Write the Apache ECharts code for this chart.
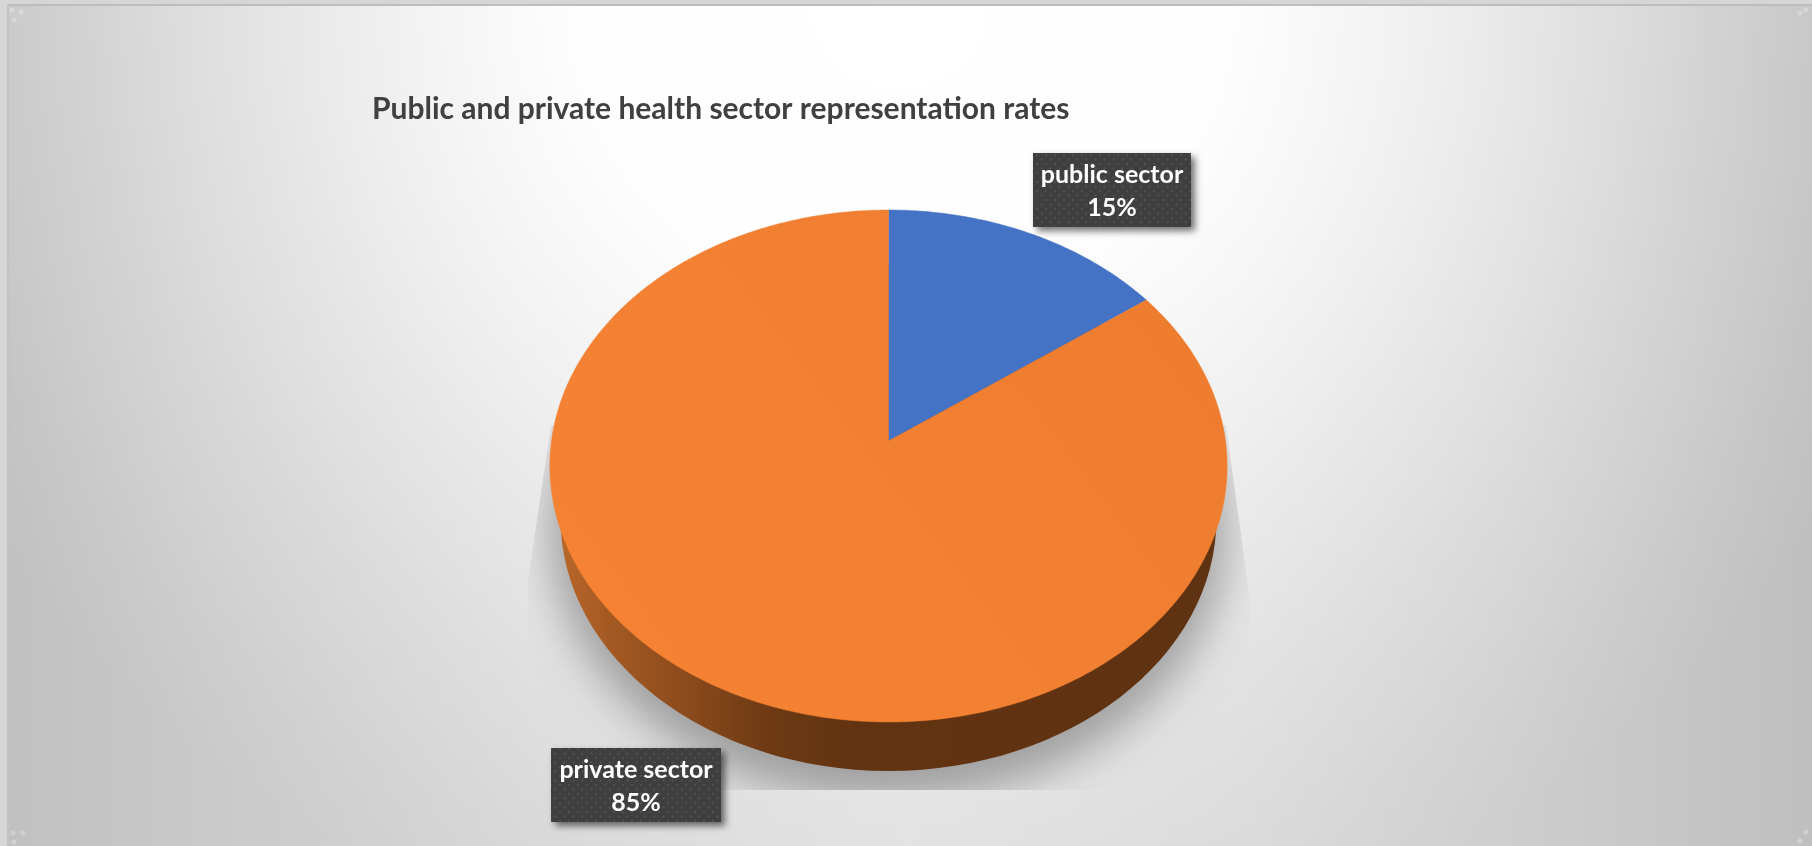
<!DOCTYPE html>
<html>
<head>
<meta charset="utf-8">
<style>html,body{margin:0;padding:0;background:#d6d6d6}#chart{width:1812px;height:846px}</style>
<script src="https://cdn.jsdelivr.net/npm/echarts@6/dist/echarts.min.js"></script>
</head>
<body>
<div id="chart"></div>
<script>
// Sector shares
const categories = ['public sector', 'private sector'];
const shares = [15, 85];
const sliceColors = ['#4472c4', null];
const chartTitle = 'Public and private health sector representation rates';

// Perspective disc: top face is a tilted circle, so the hub sits above the ellipse centre
const DISC = { cx: 888.5, cy: 466, halfH: 256, hubOffset: -25, spread: 337, tilt: -0.0977 };
const WALL = { cy: 518, rx: 328, ry: 253 };
const total = shares.reduce((a, b) => a + b, 0);

function project(sx, sy) {
  const den = 1 + DISC.tilt * sy;
  return [DISC.cx + DISC.spread * sx / den, DISC.cy + (DISC.halfH * sy + DISC.hubOffset) / den];
}
function rim(angle) { return project(Math.sin(angle), -Math.cos(angle)); }

function slicePoints(fromShare, toShare) {
  const a0 = fromShare / total * Math.PI * 2, a1 = toShare / total * Math.PI * 2;
  const steps = Math.max(8, Math.round((a1 - a0) * 90));
  const pts = [project(0, 0)];
  for (let i = 0; i <= steps; i++) pts.push(rim(a0 + (a1 - a0) * i / steps));
  return pts;
}

// Small dotted tile for the label boxes
const tile = document.createElement('canvas');
tile.width = 9; tile.height = 9;
(function () {
  const g = tile.getContext('2d');
  g.fillStyle = '#3f3f3f'; g.fillRect(0, 0, 9, 9);
  g.fillStyle = '#565656';
  [[2, 2], [6.5, 6.5]].forEach(p => { g.beginPath(); g.arc(p[0], p[1], 1, 0, 7); g.fill(); });
})();

const labelBoxes = [
  { x: 1033, y: 153, width: 158, height: 74 },
  { x: 551, y: 748, width: 170, height: 74 }
];

// Faint resize grips left in the frame corners
const gripDots = [[12, 10], [21, 12], [14, 20], [13, 833], [23, 833], [14, 842], [1806, 10], [1800, 13], [1806, 832], [1800, 841]];

const chart = echarts.init(document.getElementById('chart'));
chart.setOption({
  animation: false,
  title: {
    text: chartTitle, left: 367, top: 89,
    textStyle: { fontFamily: 'Lato', fontWeight: 'bold', fontSize: 30, color: '#404040' }
  },
  graphic: [
    {
      // Page backdrop: a sideways grey ramp with a white glow from the top edge
      type: 'rect', silent: true, z: -3, shape: { x: 0, y: 0, width: 1812, height: 846 },
      style: {
        fill: {
          type: 'linear', x: 0, y: 0, x2: 1, y2: 0,
          colorStops: [
            { offset: 0, color: '#c0c0c0' }, { offset: 0.11, color: '#c9c9c9' },
            { offset: 0.3, color: '#d6d6d6' }, { offset: 0.5, color: '#dedede' },
            { offset: 0.69, color: '#d8d8d8' }, { offset: 0.83, color: '#cecece' },
            { offset: 1, color: '#bfbfbf' }
          ]
        }
      }
    },
    {
      type: 'rect', silent: true, z: -2, x: 900, y: 0, scaleX: 1080, scaleY: 1000,
      shape: { x: -2, y: -2, width: 4, height: 4 },
      style: {
        fill: {
          type: 'radial', x: 0.5, y: 0.5, r: 0.25,
          colorStops: [
            { offset: 0, color: 'rgba(255,255,255,1)' }, { offset: 0.3, color: 'rgba(255,255,255,0.97)' },
            { offset: 0.45, color: 'rgba(255,255,255,0.72)' }, { offset: 0.6, color: 'rgba(255,255,255,0.47)' },
            { offset: 0.75, color: 'rgba(255,255,255,0.25)' }, { offset: 0.9, color: 'rgba(255,255,255,0.08)' },
            { offset: 1, color: 'rgba(255,255,255,0)' }
          ]
        }
      }
    },
    { type: 'rect', silent: true, z: -1, shape: { x: 0, y: 0, width: 7, height: 846 }, style: { fill: '#d6d6d6' } },
    { type: 'rect', silent: true, z: -1, shape: { x: 0, y: 0, width: 1812, height: 4 }, style: { fill: '#d6d6d6' } },
    { type: 'rect', silent: true, z: -1, shape: { x: 7, y: 4, width: 1805, height: 2 }, style: { fill: '#bdbdbd' } },
    { type: 'rect', silent: true, z: -1, shape: { x: 7, y: 4, width: 2, height: 842 }, style: { fill: '#c2c2c2' } }
  ].concat(gripDots.map(p => ({
    type: 'circle', silent: true, z: -1, shape: { cx: p[0], cy: p[1], r: 2.6 }, style: { fill: 'rgba(255,255,255,0.25)' }
  }))),
  series: [
    {
      // Drop shadow and the dark side wall below the disc
      type: 'custom', coordinateSystem: 'none', silent: true, clip: false, z: 2,
      data: [0],
      renderItem: function () {
        return {
          type: 'group',
          children: [
            {
              // The caster sits off canvas so that only its soft shadow lands on the page
              type: 'ellipse',
              shape: { cx: DISC.cx - 3000, cy: WALL.cy + 6, rx: WALL.rx + 12, ry: WALL.ry + 24 },
              style: {
                fill: '#000', shadowBlur: 44, shadowOffsetX: 3000, shadowColor: 'rgba(0,0,0,0.30)'
              },
              clipPath: {
                type: 'polygon',
                shape: { points: [[551, 425], [528, 580], [528, 790], [1250, 790], [1250, 600], [1226, 425]] }
              }
            },
            {
              type: 'ellipse',
              shape: { cx: DISC.cx, cy: WALL.cy, rx: WALL.rx, ry: WALL.ry },
              style: {
                fill: {
                  type: 'linear', x: 0, y: 0, x2: 1, y2: 0,
                  colorStops: [
                    { offset: 0, color: '#b8662a' }, { offset: 0.07, color: '#a65a23' },
                    { offset: 0.32, color: '#6e3a14' }, { offset: 0.45, color: '#623311' },
                    { offset: 1, color: '#5f3212' }
                  ]
                }
              }
            }
          ]
        };
      }
    },
    {
      // Top face of the pie, one wedge per sector
      type: 'custom', coordinateSystem: 'none', silent: true, clip: false, z: 3,
      data: shares.map((v, i) => ({ name: categories[i], value: v })),
      renderItem: function (params, api) {
        const i = params.dataIndex;
        const start = shares.slice(0, i).reduce((a, b) => a + b, 0);
        const fill = sliceColors[i] || {
          type: 'linear', x: 0, y: 1, x2: 1, y2: 0,
          colorStops: [{ offset: 0, color: '#f68334' }, { offset: 0.55, color: '#f28032' }, { offset: 1, color: '#ec7b2e' }]
        };
        return {
          type: 'polygon',
          shape: { points: slicePoints(start, start + api.value(0)) },
          style: { fill: fill, stroke: sliceColors[i] || '#f08031', lineWidth: 0.5 }
        };
      }
    },
    {
      // Dark name / percentage tags
      type: 'custom', coordinateSystem: 'none', silent: true, clip: false, z: 4,
      data: shares.map((v, i) => ({ name: categories[i], value: v })),
      renderItem: function (params, api) {
        const i = params.dataIndex, b = labelBoxes[i];
        return {
          type: 'group',
          children: [
            {
              type: 'rect', shape: b,
              style: {
                fill: { image: tile, repeat: 'repeat' },
                shadowBlur: 7, shadowOffsetX: 4, shadowOffsetY: 4, shadowColor: 'rgba(0,0,0,0.55)'
              }
            },
            {
              type: 'text',
              style: {
                x: b.x + b.width / 2, y: b.y + b.height / 2 + 1,
                text: categories[i] + '\n' + api.value(0) + '%',
                fill: '#ffffff', align: 'center', verticalAlign: 'middle',
                font: 'bold 25px Lato', lineHeight: 33
              }
            }
          ]
        };
      }
    }
  ]
});
</script>
</body>
</html>
